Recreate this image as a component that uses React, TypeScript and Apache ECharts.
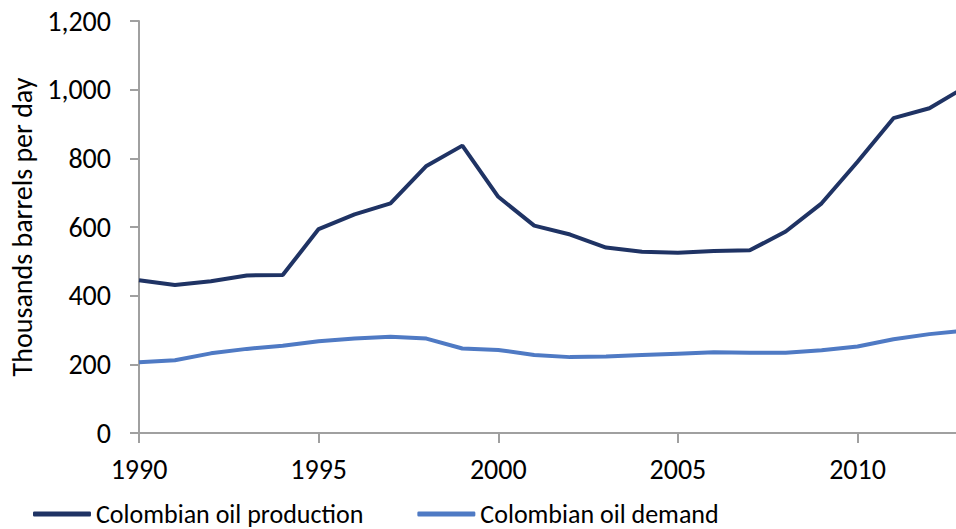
import React, { useEffect, useRef } from "react";
import * as echarts from "echarts";

const years = [1990, 1991, 1992, 1993, 1994, 1995, 1996, 1997, 1998, 1999, 2000, 2001, 2002, 2003, 2004, 2005, 2006, 2007, 2008, 2009, 2010, 2011, 2012, 2013];
const production = [445, 431, 442, 459, 460, 594, 637, 669, 778, 837, 688, 604, 578, 540, 528, 525, 530, 532, 587, 669, 790, 917, 946, 1008];
const demand = [206, 212, 232, 245, 254, 267, 275, 280, 275, 246, 242, 227, 221, 223, 227, 231, 235, 234, 234, 241, 252, 273, 288, 298];
const seriesNames = ["Colombian oil production", "Colombian oil demand"];
const yAxisTitle = "Thousands barrels per day";

const FONT = "Carlito, 'Open Sans', sans-serif";

export default function App() {
  const ref = useRef<HTMLDivElement>(null);
  useEffect(() => {
    document.body.style.margin = "0";
    const chart = echarts.init(ref.current!, null, { renderer: "svg" });
    const axisColor = "#A0A0A0";
    chart.setOption({
      animation: false,
      textStyle: { fontFamily: FONT },
      grid: { left: 139, right: 0, top: 21, bottom: 96, containLabel: false },
      legend: {
        left: 33,
        bottom: 2,
        padding: 0,
        itemWidth: 58,
        itemHeight: 5,
        itemGap: 54,
        icon: "roundRect",
        textStyle: { fontSize: 26, color: "#000", fontFamily: FONT },
        data: seriesNames,
      },
      xAxis: {
        type: "value",
        min: 1990,
        max: 2012.74,
        interval: 5,
        splitLine: { show: false },
        axisLine: { lineStyle: { color: axisColor, width: 2 } },
        axisTick: { length: 10, lineStyle: { color: axisColor, width: 2 } },
        axisLabel: {
          fontSize: 28,
          color: "#000",
          margin: 22,
          showMaxLabel: false,
          formatter: (v: number) => (v % 5 === 0 ? String(v) : ""),
        },
      },
      yAxis: {
        type: "value",
        min: 0,
        max: 1200,
        interval: 200,
        name: yAxisTitle,
        nameLocation: "middle",
        nameGap: 103,
        nameTextStyle: { fontSize: 28, color: "#000" },
        splitLine: { show: false },
        axisLine: { show: true, lineStyle: { color: axisColor, width: 2 } },
        axisTick: { show: true, length: 9, lineStyle: { color: axisColor, width: 2 } },
        axisLabel: {
          fontSize: 28,
          color: "#000",
          margin: 28,
          formatter: (v: number) => v.toLocaleString("en-US"),
        },
      },
      series: [
        {
          name: seriesNames[0],
          type: "line",
          data: years.map((y, i) => [y, production[i]]),
          showSymbol: false,
          symbol: "none",
          clip: true,
          lineStyle: { color: "#1F3364", width: 4 },
          itemStyle: { color: "#1F3364" },
        },
        {
          name: seriesNames[1],
          type: "line",
          data: years.map((y, i) => [y, demand[i]]),
          showSymbol: false,
          symbol: "none",
          clip: true,
          lineStyle: { color: "#4F7AC4", width: 4 },
          itemStyle: { color: "#4F7AC4" },
        },
      ],
    });
    return () => chart.dispose();
  }, []);
  return <div ref={ref} style={{ width: 956, height: 529 }} />;
}
